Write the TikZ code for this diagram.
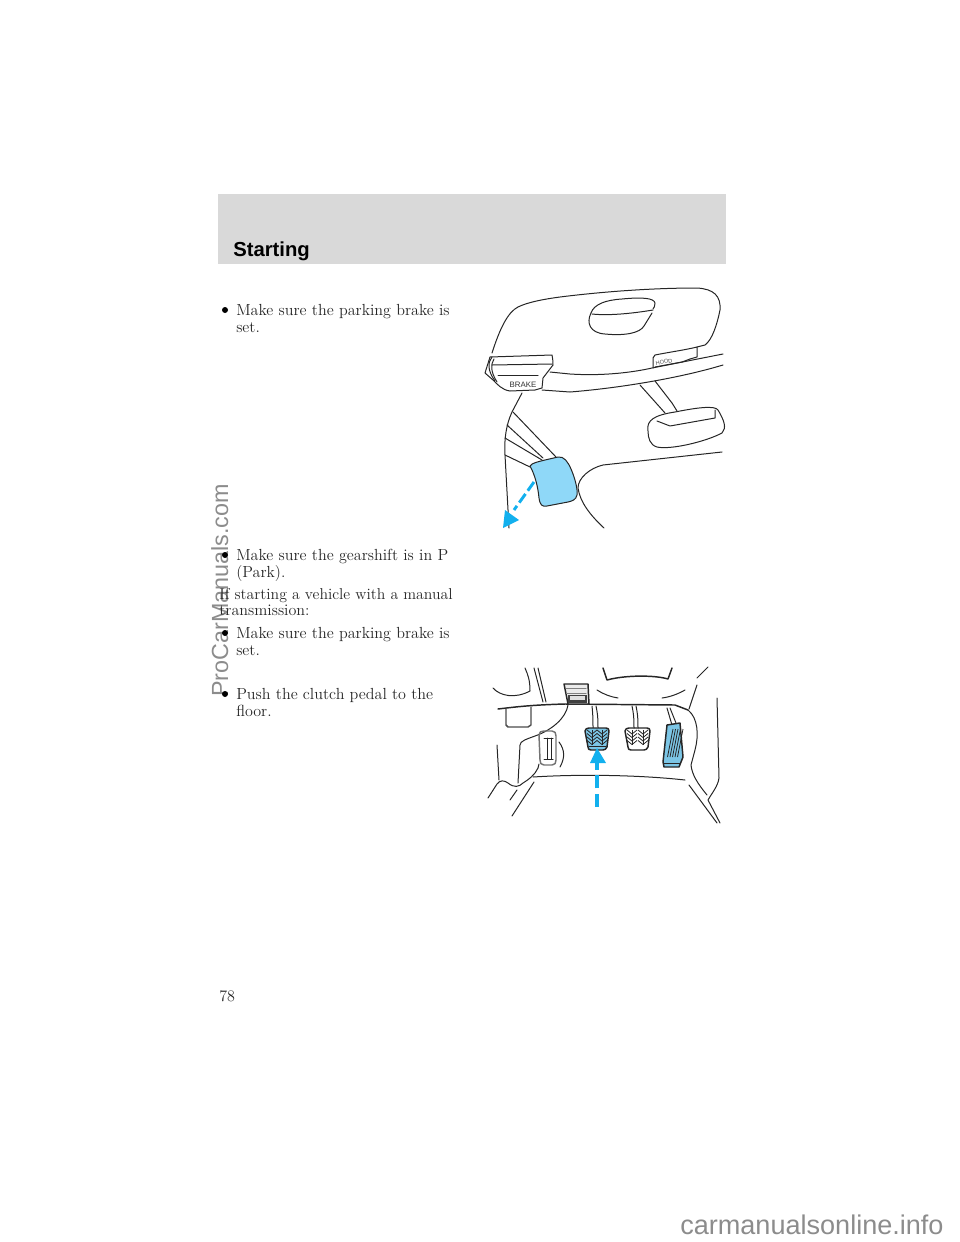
\documentclass[tikz,border=0pt]{standalone}
\usepackage{fontspec}
\newfontfamily\headfont{Liberation Sans}
\tikzset{
    bodytext/.style={anchor=base west,inner sep=0pt,font=\fontsize{12.05}{14}\selectfont,text=black!85},
    dotmark/.style={fill=black,draw=none},
    sketch/.style={draw=black!85,line width=0.75pt,line cap=round,line join=round},
    thick sketch/.style={sketch,line width=1.1pt},
    bluefill/.style={sketch,fill=lightblue},
    cueline/.style={draw=cueblue,line width=2.2pt},
    cuetip/.style={fill=cueblue,draw=none},
    tread/.style={draw=black!85,line width=0.6pt},
}
\definecolor{lightblue}{HTML}{8FD8F8}
\definecolor{pedalblue}{HTML}{7CC6E6}
\definecolor{cueblue}{HTML}{12B0EE}
\begin{document}
\begin{tikzpicture}[x=0.75pt,y=-0.75pt]
    \useasboundingbox (0,0) rectangle (960,1242);
    % header band
    \fill[black!15] (218,194) rectangle (726,264);
    \node[anchor=base west,inner sep=0pt,font=\headfont\bfseries\fontsize{15.2}{18}\selectfont] (title) at (233,256) {Starting};
    % watermarks
    \node[anchor=base west,inner sep=0pt,rotate=90,text=black!45,font=\headfont\fontsize{17.5}{20}\selectfont] (sidemark) at (228,697) {ProCarManuals.com};
    \node[anchor=base west,inner sep=0pt,text=black!45,font=\headfont\fontsize{20.3}{24}\selectfont] (footmark) at (680,1234) {carmanualsonline.info};
    % text column
    \fill[dotmark] (225,310) circle (3);
    \node[bodytext] (t1) at (236,315) {Make sure the parking brake is};
    \node[bodytext] (t2) at (236,332) {set.};
    \fill[dotmark] (225,555) circle (3);
    \node[bodytext] (t3) at (236,560) {Make sure the gearshift is in P};
    \node[bodytext] (t4) at (236,577) {(Park).};
    \node[bodytext,font=\fontsize{11.8}{14}\selectfont] (t5) at (219,599) {If starting a vehicle with a manual};
    \node[bodytext] (t6) at (219,615) {transmission:};
    \fill[dotmark] (225,633) circle (3);
    \node[bodytext] (t7) at (236,638) {Make sure the parking brake is};
    \node[bodytext] (t8) at (236,655) {set.};
    \fill[dotmark] (225,694) circle (3);
    \node[bodytext] (t9) at (236,699) {Push the clutch pedal to the};
    \node[bodytext] (t10) at (236,716) {floor.};
    \node[bodytext] (pageno) at (219,1001) {78};
    % parking brake panel
    \draw[sketch] (492,353) .. controls (500,328) and (508,312) .. (518,307) .. controls (528,302) and (545,299) .. (560,297) .. controls (600,292) and (650,288) .. (697,288) .. controls (714,289) and (721,296) .. (720,310) .. controls (717,325) and (712,340) .. (705,345) -- (697,347);
    \draw[sketch] (591,313) .. controls (594,304) and (606,300) .. (622,299) .. controls (642,297) and (654,298) .. (655,303) .. controls (655,306) and (654,308) .. (653,309);
    \draw[sketch] (592,314) .. controls (610,316) and (635,313) .. (653,310);
    \draw[sketch] (591,313) .. controls (586,323) and (590,333) .. (605,334) .. controls (625,336) and (640,333) .. (644,326) -- (652,313);
    \draw[sketch] (550,372) -- (570,374) .. controls (600,376) and (630,373) .. (652,368) -- (723,354);
    \draw[sketch] (542,390) -- (570,392) .. controls (620,388) and (680,378) .. (723,365);
    \draw[sketch] (653,368) -- (653,358) -- (655,355) .. controls (670,352) and (685,350) .. (697,347) -- (697,357) -- (690,359);
    \draw[sketch] (655,367) -- (682,362) -- (690,359);
    \node[inner sep=0pt,rotate=10,font=\headfont\fontsize{4.2}{5}\selectfont,text=black!70] (hoodlabel) at (664,362) {HOOD};
    % brake handle
    \draw[sketch] (490,357) -- (552,355) .. controls (553,360) and (553,363) .. (553,365) -- (543,378) -- (542,388) -- (535,390) -- (510,391) .. controls (502,390) and (497,384) .. (493,380) -- (485,373) -- cycle;
    \draw[sketch] (492,365) -- (552,364);
    \draw[sketch] (498,375) -- (538,375);
    \draw[sketch] (492,357) .. controls (488,362) and (487,370) .. (495,381);
    \draw[sketch] (494,359) .. controls (491,364) and (490,371) .. (497,382);
    \node[inner sep=0pt,font=\headfont\fontsize{5.9}{7}\selectfont,text=black!80] (brakelabel) at (523,385) {BRAKE};
    % small pedal on the right
    \draw[sketch] (640,385) -- (665,413);
    \draw[sketch] (655,381) -- (672,403) -- (677,411);
    \draw[sketch] (648,431) .. controls (646,420) and (655,415) .. (675,412) .. controls (695,408) and (715,405) .. (718,410) .. controls (724,420) and (727,428) .. (722,433) .. controls (705,442) and (670,450) .. (657,447) .. controls (650,445) and (648,438) .. (648,431);
    \draw[sketch] (657,421) -- (670,426) -- (715,418) -- (715,410);
    % floor line
    \draw[sketch] (722,452) -- (603,465) .. controls (590,468) and (578,478) .. (578,488) .. controls (580,502) and (590,515) .. (604,528);
    % cables
    \draw[sketch] (522,393) -- (512,412) .. controls (506,425) and (504,440) .. (505,455) -- (509,528);
    \draw[sketch] (513,412) -- (556,457);
    \draw[sketch] (507,425) -- (543,458);
    \draw[sketch] (505,438) -- (542,460);
    \draw[sketch] (505,455) -- (530,467);
    % blue brake pad
    \draw[bluefill] (530,466) .. controls (532,463) and (537,462) .. (545,460) -- (558,457) .. controls (564,456) and (568,462) .. (571,469) .. controls (575,478) and (578,490) .. (577,495) .. controls (576,500) and (572,501) .. (568,502) -- (547,506) .. controls (542,507) and (540,505) .. (539,498) .. controls (538,487) and (535,475) .. (530,466) -- cycle;
    \draw[cueline,dash pattern=on 8pt off 3pt] (534,482) -- (514,510);
    \fill[cuetip] (505,510) -- (519,520) -- (503,528) -- cycle;
    % pedal box, left side
    \draw[sketch] (534,668) -- (543,702);
    \draw[sketch] (538,668) -- (546,702);
    \draw[sketch] (493,688) .. controls (500,696) and (515,699) .. (530,691) .. controls (530,680) and (528,675) .. (525,668);
    \draw[thick sketch] (498,709) .. controls (515,707) and (530,705) .. (565,704) -- (675,705) -- (688,710);
    \draw[sketch] (688,710) .. controls (698,718) and (699,735) .. (695,750) -- (691,765) .. controls (692,775) and (698,784) .. (707,795);
    \draw[sketch] (689,709) -- (697,685);
    \draw[sketch] (717,698) -- (719,778) .. controls (718,786) and (712,793) .. (708,800) -- (720,823);
    \draw[sketch] (697,678) -- (708,667);
    % centre cutout and curves
    \draw[thick sketch] (603,668) -- (607,680) .. controls (625,675) and (655,675) .. (668,679) -- (672,668);
    \draw[sketch] (597,690) .. controls (603,694) and (611,697) .. (618,698);
    \draw[sketch] (662,698) .. controls (670,697) and (678,694) .. (685,690);
    % hood release box
    \draw[thick sketch,draw=black!70] (506,709) -- (506,725) -- (508,727) -- (528,727) -- (531,725) -- (531,707);
    % top bracket
    \draw[thick sketch,fill=black!8] (564,684) -- (588,684) -- (589,704) -- (568,704) -- cycle;
    \draw[sketch,draw=black!50] (566,688) -- (586,688);
    \draw[sketch,draw=black!50] (566,693) -- (586,693);
    \fill[black!75] (568,695) -- (587,695) -- (587,703) -- (568,703) -- cycle;
    \fill[black!12] (570,696) -- (585,696) -- (585,700) -- (570,700) -- cycle;
    % column side
    \draw[sketch] (568,705) .. controls (566,718) and (552,730) .. (535,736) .. controls (527,739) and (520,741) .. (520,745) -- (518,783);
    \draw[sketch] (538,768) .. controls (535,775) and (528,780) .. (523,783) .. controls (519,787) and (514,788) .. (508,783) .. controls (504,780) and (500,780) .. (497,784) -- (488,798);
    \draw[sketch] (497,745) -- (499,780);
    \draw[sketch] (517,790) -- (510,800);
    \draw[sketch] (539,764) -- (538,768);
    % foot rest
    \draw[thick sketch,draw=black!55] (539,735) .. controls (539,732) and (541,731) .. (544,731) -- (552,731) .. controls (555,731) and (556,733) .. (556,736) -- (556,760) .. controls (556,763) and (555,765) .. (552,765) -- (544,765) .. controls (541,765) and (540,763) .. (540,760) -- cycle;
    \draw[sketch] (547,738) -- (547,759);
    \draw[sketch] (551,738) -- (551,759);
    \draw[sketch] (544,738) -- (553,738);
    \draw[sketch] (544,759) -- (553,759);
    \draw[sketch] (559,742) .. controls (565,750) and (565,758) .. (560,767);
    % stalks
    \draw[sketch] (592,706) .. controls (593,715) and (593,722) .. (593,728);
    \draw[sketch] (596,706) .. controls (598,715) and (598,722) .. (598,728);
    \draw[sketch] (632,706) .. controls (634,715) and (634,722) .. (634,728);
    \draw[sketch] (636,706) .. controls (638,715) and (638,722) .. (638,728);
    \draw[sketch] (667,708) -- (672,725);
    \draw[sketch] (670,708) -- (676,723);
    % clutch pedal
    \draw[thick sketch,fill=pedalblue] (585,731) .. controls (585,729) and (587,728) .. (589,728) -- (606,728) .. controls (608,728) and (609,729) .. (609,731) -- (607,747) .. controls (606,749) and (605,750) .. (603,750) -- (591,750) .. controls (589,750) and (588,749) .. (588,747) -- cycle;
    \foreach \k in {592,602} {
        \draw[tread] (\k,730) -- (\k,745);
        \foreach \r in {730,733.5,737,740.5} {
            \draw[tread] (\k-5,\r) -- (\k,\r+4) -- (\k+5,\r);
        }
    }
    \draw[sketch] (589,746) -- (606,746);
    % brake pedal
    \draw[thick sketch] (625,731) .. controls (625,729) and (627,728) .. (629,728) -- (647,728) .. controls (649,728) and (650,729) .. (650,731) -- (648,747) .. controls (647,749) and (646,750) .. (644,750) -- (631,750) .. controls (629,750) and (628,749) .. (628,747) -- cycle;
    \foreach \k in {632,643} {
        \draw[tread] (\k,730) -- (\k,745);
        \foreach \r in {730,733.5,737,740.5} {
            \draw[tread] (\k-5,\r) -- (\k,\r+4) -- (\k+5,\r);
        }
    }
    % accelerator pedal
    \draw[thick sketch,fill=pedalblue] (667,725) -- (680,723) -- (683,757) -- (679,767) -- (664,767) -- (663,762) -- cycle;
    \foreach \k in {0,...,4} {
        \draw[tread] (667.5+2.5*\k,757) -- (673+2.5*\k,729);
    }
    \draw[sketch] (664,763) -- (680,763);
    % floor mat
    \draw[sketch] (533,777) .. controls (580,774) and (640,775) .. (685,780);
    \draw[sketch] (534,782) -- (512,816);
    \draw[sketch] (689,785) -- (717,823);
    % clutch arrow
    \fill[cuetip] (590,763) -- (597,748) -- (606,763) -- cycle;
    \draw[cueline,line width=2.6pt,dash pattern=on 10pt off 4pt] (597,807) -- (597,762);
\end{tikzpicture}
\end{document}
